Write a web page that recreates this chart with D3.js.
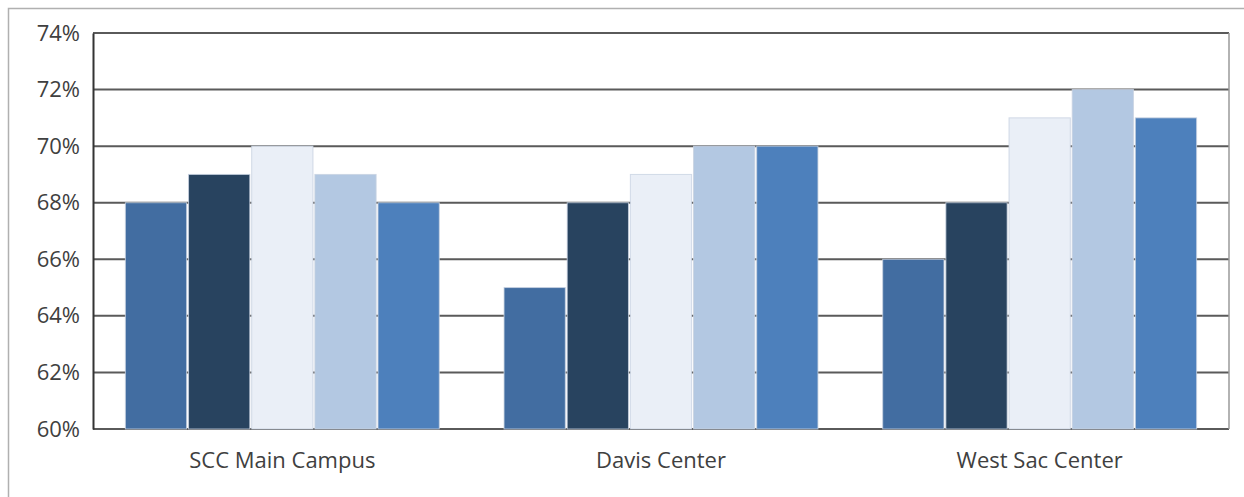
<!DOCTYPE html>
<html><head><meta charset="utf-8">
<script src="https://cdn.jsdelivr.net/npm/d3@7"></script>
<style>
html,body{margin:0;padding:0;background:#fff;}
svg{display:block;}
text{font-family:"Open Sans","Liberation Sans",sans-serif;fill:#404040;}
</style></head>
<body><svg id="c" width="1244" height="497"></svg>
<script>
const categories = ["SCC Main Campus", "Davis Center", "West Sac Center"];
const seriesNames = ["S1", "S2", "S3", "S4", "S5"];
const seriesColors = ["#426da1", "#28435f", "#eaeff7", "#b3c8e2", "#4d80bc"];
const values = [
  [0.68, 0.69, 0.70, 0.69, 0.68],
  [0.65, 0.68, 0.69, 0.70, 0.70],
  [0.66, 0.68, 0.71, 0.72, 0.71]
];
const yTicks = [0.60, 0.62, 0.64, 0.66, 0.68, 0.70, 0.72, 0.74];

const svg = d3.select("#c");
const m = {left: 93, right: 1229, top: 33, bottom: 429};
const FONT = '"Open Sans","Liberation Sans",sans-serif';

svg.append("rect").attr("x", 8.5).attr("y", 8.5).attr("width", 1300).attr("height", 600)
  .attr("fill", "none").attr("stroke", "#b0b0b0").attr("stroke-width", 1.5);

const y = d3.scaleLinear().domain([0.60, 0.74]).range([m.bottom, m.top]);
const p = 0.171;
const x0 = d3.scaleBand().domain(categories).range([m.left, m.right]).paddingInner(p).paddingOuter(p / 2);
const x1 = d3.scaleBand().domain(seriesNames).range([0, x0.bandwidth()]).paddingInner(0.03);

// gridlines
svg.append("g").selectAll("line").data(yTicks).join("line")
  .attr("x1", m.left).attr("x2", m.right)
  .attr("y1", d => y(d)).attr("y2", d => y(d))
  .attr("stroke", "#5a5a5a").attr("stroke-width", 2);

// right border of plot
svg.append("line").attr("x1", m.right).attr("x2", m.right).attr("y1", m.top).attr("y2", m.bottom)
  .attr("stroke", "#9a9a9a").attr("stroke-width", 1.5);

// bars
const g = svg.append("g").selectAll("g").data(categories).join("g")
  .attr("transform", d => `translate(${x0(d)},0)`);
g.selectAll("rect").data((d, i) => values[i].map((v, j) => ({v, j})))
  .join("rect")
  .attr("x", d => x1(seriesNames[d.j]))
  .attr("width", x1.bandwidth())
  .attr("y", d => y(d.v))
  .attr("height", d => y(0.60) - y(d.v))
  .attr("fill", d => seriesColors[d.j])
  .attr("stroke", "rgba(200,210,225,0.8)").attr("stroke-width", 1);

// left axis
const yAxis = d3.axisLeft(y).tickValues(yTicks).tickSize(0).tickPadding(13)
  .tickFormat(d => Math.round(d * 100) + "%");
const ya = svg.append("g").attr("transform", `translate(${m.left},0)`).call(yAxis);
ya.select(".domain").attr("stroke", "#333").attr("stroke-width", 2);
ya.selectAll("text").attr("font-size", 22).attr("fill", "#404040").style("font-family", FONT);

// x axis labels
const xAxis = d3.axisBottom(x0).tickSize(0).tickPadding(23);
const xa = svg.append("g").attr("transform", `translate(0,${m.bottom})`).call(xAxis);
xa.select(".domain").remove();
xa.selectAll("text").attr("font-size", 22).attr("fill", "#404040").style("font-family", FONT);
</script></body></html>
